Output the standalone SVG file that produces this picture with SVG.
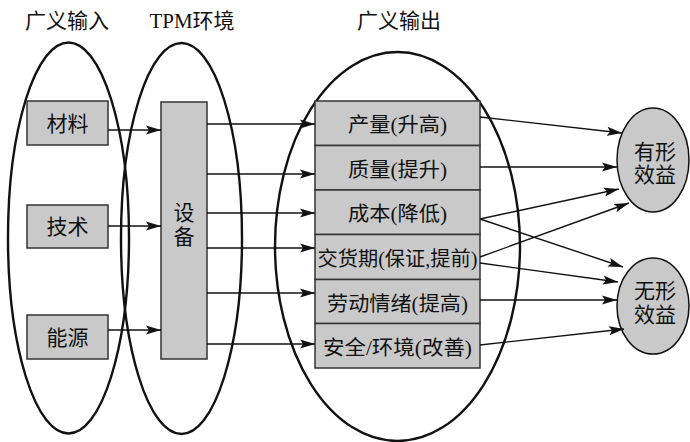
<svg xmlns="http://www.w3.org/2000/svg" width="690" height="442" viewBox="0 0 690 442">
<style>
.ell{fill:none;stroke:#111;stroke-width:2.4}
.box{fill:#c9c9c9;stroke:#333;stroke-width:1.5}
.t{font-family:"Liberation Serif","Noto Sans CJK SC",serif;fill:#111;text-anchor:middle}
.r{font-size:20px}
.c line{stroke:#111;stroke-width:1.4;marker-end:url(#ah)}
</style>
<defs>
<marker id="ah" markerUnits="userSpaceOnUse" markerWidth="16" markerHeight="10" refX="15" refY="5" orient="auto">
<path d="M0,0.5 L15,5 L0,9.5 L3,5 z" fill="#111"/>
</marker>
</defs>
<rect width="690" height="442" fill="#fff"/>
<g id="titles">
<text class="t" x="67" y="28" font-size="21">广义输入</text>
<text class="t" x="192" y="28" font-size="21">TPM环境</text>
<text class="t" x="399" y="28" font-size="21">广义输出</text>
</g>
<g id="groups">
<ellipse class="ell" cx="68.5" cy="238" rx="60.5" ry="195.5"/>
<ellipse class="ell" cx="181.5" cy="238.5" rx="60.5" ry="195.5"/>
<ellipse class="ell" cx="397.5" cy="246.5" rx="122.5" ry="194.5"/>
</g>
<g id="input-material"><rect class="box" x="27" y="101" width="81" height="44"/><text class="t" x="67.5" y="131" font-size="21">材料</text></g>
<g id="input-tech"><rect class="box" x="27" y="205" width="81" height="43"/><text class="t" x="67.5" y="234" font-size="21">技术</text></g>
<g id="input-energy"><rect class="box" x="27" y="315" width="81" height="44"/><text class="t" x="67.5" y="345" font-size="21">能源</text></g>
<g id="equipment"><rect class="box" x="161" y="102" width="46" height="257"/><text class="t" x="184" y="220" font-size="21">设</text><text class="t" x="184" y="244" font-size="21">备</text></g>
<g id="output-yield"><rect class="box" x="315" y="101" width="165" height="44.5"/><text class="t r" x="397.5" y="132" textLength="99" lengthAdjust="spacingAndGlyphs">产量(升高)</text></g>
<g id="output-quality"><rect class="box" x="315" y="145.5" width="165" height="44.5"/><text class="t r" x="397.5" y="176.5" textLength="99" lengthAdjust="spacingAndGlyphs">质量(提升)</text></g>
<g id="output-cost"><rect class="box" x="315" y="190" width="165" height="44.5"/><text class="t r" x="397.5" y="221" textLength="99" lengthAdjust="spacingAndGlyphs">成本(降低)</text></g>
<g id="output-delivery"><rect class="box" x="315" y="234.5" width="165" height="45"/><text class="t r" x="397.5" y="266" textLength="160" lengthAdjust="spacingAndGlyphs">交货期(保证,提前)</text></g>
<g id="output-morale"><rect class="box" x="315" y="279.5" width="165" height="44"/><text class="t r" x="397.5" y="310.5" textLength="141" lengthAdjust="spacingAndGlyphs">劳动情绪(提高)</text></g>
<g id="output-safety"><rect class="box" x="315" y="323.5" width="165" height="44.5"/><text class="t r" x="397.5" y="354.5" textLength="149" lengthAdjust="spacingAndGlyphs">安全/环境(改善)</text></g>
<g id="tangible"><ellipse cx="653" cy="160" rx="36" ry="52" fill="#c9c9c9" stroke="#111" stroke-width="1.5"/><text class="t" x="655" y="159" font-size="21">有形</text><text class="t" x="655" y="182" font-size="21">效益</text></g>
<g id="intangible"><ellipse cx="653" cy="306" rx="36" ry="48" fill="#c9c9c9" stroke="#111" stroke-width="1.5"/><text class="t" x="655" y="298" font-size="21">无形</text><text class="t" x="655" y="322" font-size="21">效益</text></g>
<g id="connectors" class="c">
<line x1="108" y1="130" x2="161" y2="130"/>
<line x1="108" y1="226" x2="161" y2="226"/>
<line x1="108" y1="330" x2="161" y2="330"/>
<line x1="207" y1="124" x2="315" y2="124"/>
<line x1="207" y1="174" x2="315" y2="174"/>
<line x1="207" y1="213" x2="315" y2="213"/>
<line x1="207" y1="248" x2="315" y2="248"/>
<line x1="207" y1="293" x2="315" y2="293"/>
<line x1="207" y1="344" x2="315" y2="344"/>
<line x1="480" y1="117" x2="622" y2="133"/>
<line x1="480" y1="167" x2="617" y2="167"/>
<line x1="480" y1="219" x2="619" y2="189"/>
<line x1="480" y1="257" x2="629" y2="203"/>
<line x1="480" y1="219" x2="623" y2="267"/>
<line x1="480" y1="263" x2="618" y2="282"/>
<line x1="480" y1="300" x2="617" y2="300"/>
<line x1="480" y1="345" x2="624" y2="329"/>
</g>
</svg>
